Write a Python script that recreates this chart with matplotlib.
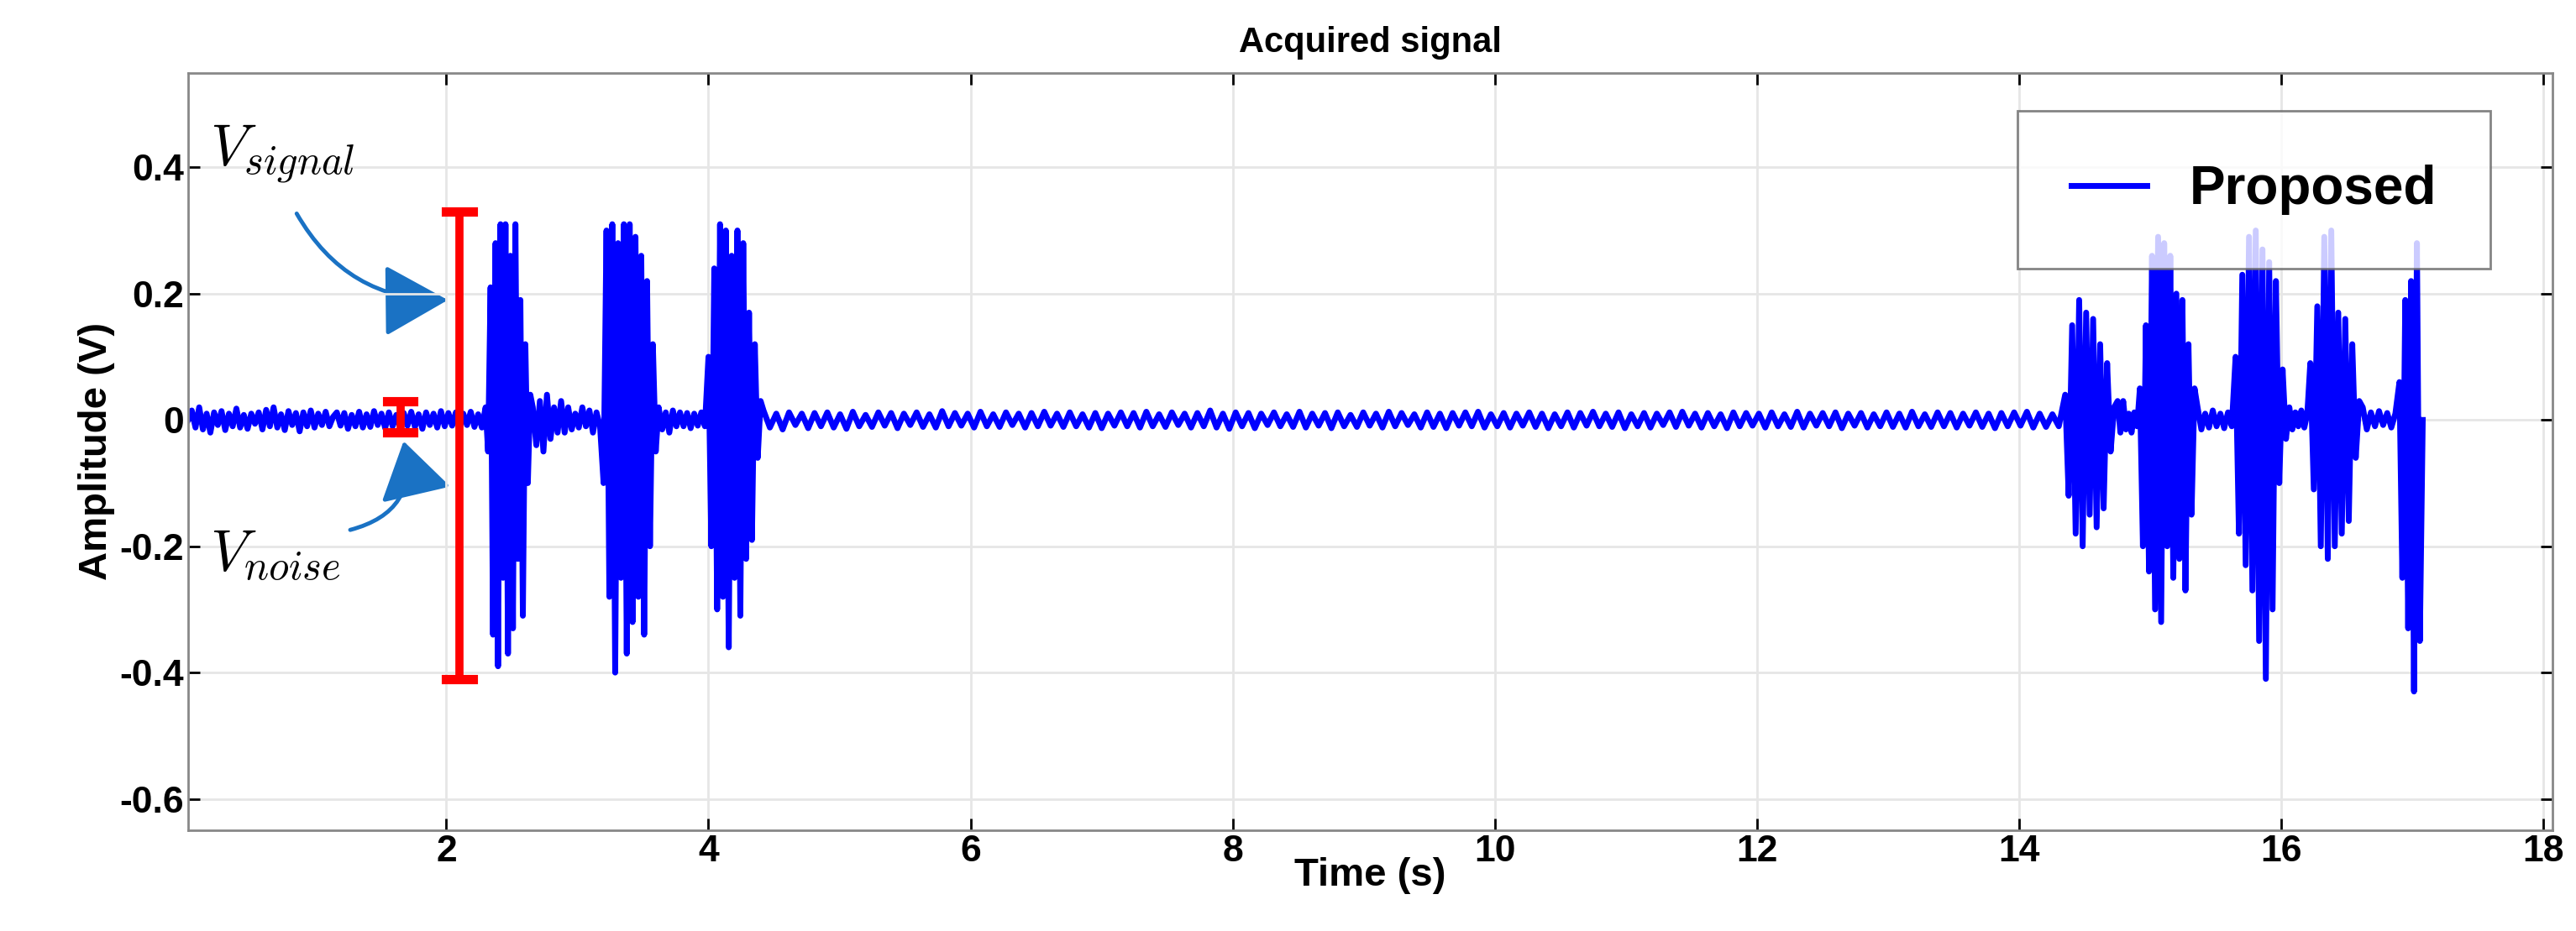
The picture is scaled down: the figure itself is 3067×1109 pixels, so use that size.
import numpy as np
import matplotlib.pyplot as plt
from matplotlib.patches import FancyArrowPatch

seg_times = [
    (0.03, 2.30), (2.30, 2.66), (2.66, 3.20), (3.20, 3.62), (3.62, 4.00),
    (4.00, 4.42), (4.42, 14.35), (14.35, 14.75), (14.75, 14.92), (14.92, 15.36),
    (15.36, 15.65), (15.65, 16.06), (16.06, 16.22), (16.22, 16.62), (16.62, 16.90),
    (16.90, 17.10),
]
seg_values = [
    [0.0, 0.015, -0.012, 0.02, -0.015, 0.01, -0.02, 0.012, -0.008, 0.014, -0.016, 0.01,
     -0.01, 0.018, -0.012, 0.008, -0.014, 0.01, -0.006, 0.012, -0.015, 0.016, -0.01, 0.02,
     -0.012, 0.009, -0.016, 0.014, -0.008, 0.011, -0.018, 0.012, -0.01, 0.015, -0.012, 0.01,
     -0.008, 0.013, -0.01, 0.005, 0.012, -0.009, 0.011, -0.014, 0.008, -0.01, 0.013, -0.012,
     0.009, -0.011, 0.014, -0.008, 0.01, -0.013, 0.012, -0.01, 0.008, -0.012, 0.011, -0.009,
     0.013, -0.011, 0.009, -0.014, 0.012, -0.008, 0.01, -0.012, 0.014, -0.01, 0.011, -0.009,
     0.012, -0.013, 0.01, -0.008, 0.013, -0.011, 0.009, -0.012],
    [0.02, -0.05, 0.21, -0.34, 0.28, -0.39, 0.31, -0.25, 0.31, -0.37, 0.26, -0.33, 0.31,
     -0.22, 0.19, -0.31, 0.12, -0.1, 0.04],
    [0.02, -0.04, 0.03, -0.05, 0.04, -0.03, 0.02, -0.02, 0.03, -0.02, 0.02, -0.015, 0.01,
     -0.012, 0.02, -0.01, 0.015, -0.02, 0.012, -0.01],
    [-0.1, 0.3, -0.28, 0.31, -0.4, 0.28, -0.25, 0.31, -0.37, 0.31, -0.32, 0.29, -0.28, 0.26,
     -0.34, 0.22, -0.2, 0.12, -0.05],
    [0.02, -0.015, 0.012, -0.02, 0.015, -0.01, 0.012, -0.01, 0.011, -0.013, 0.01, -0.009,
     0.012, -0.01],
    [0.1, -0.2, 0.24, -0.3, 0.31, -0.28, 0.3, -0.36, 0.26, -0.25, 0.3, -0.31, 0.28, -0.22,
     0.17, -0.19, 0.12, -0.06, 0.03],
    [0.015, -0.012, 0.01, -0.015, 0.012, -0.008, 0.01, -0.013, 0.011, -0.01, 0.012, -0.012,
     0.009, -0.014, 0.013, -0.01, 0.008, -0.011, 0.012, -0.009, 0.011, -0.013, 0.01, -0.008,
     0.012, -0.011, 0.009, -0.012, 0.014, -0.01, 0.011, -0.009, 0.01, -0.012, 0.013, -0.01,
     0.009, -0.011, 0.012, -0.008, 0.01, -0.012, 0.011, -0.01, 0.013, -0.009, 0.01, -0.011,
     0.012, -0.01, 0.009, -0.012, 0.011, -0.013, 0.01, -0.009, 0.012, -0.01, 0.011, -0.012,
     0.013, -0.01, 0.009, -0.011, 0.012, -0.008, 0.01, -0.012, 0.011, -0.01, 0.015, -0.012,
     0.01, -0.014, 0.012, -0.01, 0.011, -0.013, 0.01, -0.008, 0.012, -0.01, 0.009, -0.011,
     0.013, -0.012, 0.01, -0.009, 0.011, -0.013, 0.012, -0.01, 0.008, -0.011, 0.012, -0.009,
     0.01, -0.012, 0.013, -0.01, 0.011, -0.008, 0.009, -0.012, 0.012, -0.011, 0.01, -0.013,
     0.011, -0.009, 0.012, -0.01, 0.013, -0.012, 0.009, -0.01, 0.011, -0.012, 0.01, -0.009,
     0.012, -0.011, 0.01, -0.013, 0.009, -0.01, 0.012, -0.012, 0.011, -0.009, 0.013, -0.01,
     0.01, -0.011, 0.012, -0.013, 0.009, -0.01, 0.011, -0.012, 0.01, -0.008, 0.012, -0.011,
     0.013, -0.009, 0.01, -0.012, 0.011, -0.01, 0.009, -0.013, 0.012, -0.01, 0.011, -0.009,
     0.01, -0.012, 0.012, -0.01, 0.009, -0.011, 0.013, -0.012, 0.01, -0.009, 0.011, -0.01,
     0.012, -0.013, 0.01, -0.009, 0.011, -0.012, 0.009, -0.01, 0.012, -0.011, 0.01, -0.012,
     0.013, -0.01, 0.009, -0.011, 0.012, -0.01, 0.011, -0.012, 0.01, -0.009, 0.012, -0.011,
     0.01, -0.013, 0.011, -0.01, 0.012, -0.009, 0.013, -0.012, 0.01, -0.011, 0.009, -0.01],
    [0.04, -0.12, 0.15, -0.18, 0.19, -0.2, 0.17, -0.15, 0.16, -0.17, 0.12, -0.14, 0.09,
     -0.05, 0.02],
    [0.03, -0.02, 0.03, -0.015, 0.01, -0.02, 0.012, -0.01],
    [0.05, -0.2, 0.15, -0.24, 0.26, -0.3, 0.29, -0.32, 0.28, -0.2, 0.26, -0.25, 0.2, -0.22,
     0.19, -0.27, 0.12, -0.15, 0.05],
    [0.02, -0.015, 0.01, -0.012, 0.015, -0.01, 0.01, -0.013, 0.012, -0.01],
    [0.1, -0.18, 0.23, -0.23, 0.29, -0.27, 0.3, -0.35, 0.27, -0.41, 0.25, -0.3, 0.22, -0.1,
     0.08, -0.03],
    [0.02, -0.015, 0.012, -0.01, 0.015, -0.012, 0.01],
    [0.09, -0.11, 0.18, -0.2, 0.29, -0.22, 0.3, -0.2, 0.17, -0.18, 0.16, -0.16, 0.12, -0.06,
     0.03],
    [0.02, -0.015, 0.012, -0.01, 0.014, -0.008, 0.011, -0.012, 0.01],
    [0.06, -0.25, 0.19, -0.33, 0.22, -0.43, 0.28, -0.35, 0.0],
]

t = np.concatenate([np.linspace(a, b, len(v), endpoint=False)
                    for (a, b), v in zip(seg_times, seg_values)])
amp = np.concatenate([np.array(v) for v in seg_values])

plt.rcParams['font.family'] = ['Liberation Sans', 'DejaVu Sans']
plt.rcParams['mathtext.fontset'] = 'cm'
fig = plt.figure(figsize=(30.67, 11.09), dpi=100)
ax = fig.add_axes([0.073, 0.108, 0.918, 0.814])

ax.plot(t, amp, color='blue', lw=5, label='Proposed')
ax.set_xlim(0.03, 18.07)
ax.set_ylim(-0.65, 0.55)
ax.set_xticks([2, 4, 6, 8, 10, 12, 14, 16, 18])
ax.set_yticks([-0.6, -0.4, -0.2, 0, 0.2, 0.4])
ax.set_yticklabels(['-0.6', '-0.4', '-0.2', '0', '0.2', '0.4'])
ax.grid(True, color='#e6e6e6', lw=2)
ax.tick_params(labelsize=32, width=2, length=10, direction='in', top=True, right=True)
for lbl in ax.get_xticklabels() + ax.get_yticklabels():
    lbl.set_fontweight('bold')
for s in ax.spines.values():
    s.set_color('#888888')
    s.set_linewidth(2)

ax.set_title('Acquired signal', fontsize=30, fontweight='bold', pad=18)
ax.set_xlabel('Time (s)', fontsize=34, fontweight='bold', labelpad=-10)
ax.set_ylabel('Amplitude (V)', fontsize=34, fontweight='bold')

leg = ax.legend(loc='upper right', prop={'weight': 'bold', 'size': 46},
                handlelength=1.4, borderpad=1.0, fancybox=False, edgecolor='#666666',
                bbox_to_anchor=(0.985, 0.985))
leg.get_frame().set_linewidth(2)

# V_signal / V_noise bars
red = (1, 0, 0)
ax.plot([2.1, 2.1], [-0.41, 0.33], color=red, lw=7)
for y in (-0.41, 0.33):
    ax.plot([2.0, 2.2], [y, y], color=red, lw=8)
ax.plot([1.65, 1.65], [-0.02, 0.03], color=red, lw=7)
for y in (-0.02, 0.03):
    ax.plot([1.55, 1.75], [y, y], color=red, lw=8)

ax.text(0.2, 0.42, r'$V_{signal}$', fontsize=50, ha='left', va='center')
ax.text(0.2, -0.215, r'$V_{noise}$', fontsize=50, ha='left', va='center')

arrow_blue = '#1a72c4'
ax.add_patch(FancyArrowPatch((0.85, 0.33), (2.03, 0.19), connectionstyle='arc3,rad=0.3',
                             arrowstyle='-|>,head_length=1.6,head_width=0.9',
                             mutation_scale=30, color=arrow_blue, lw=3.5))
ax.add_patch(FancyArrowPatch((1.25, -0.175), (1.67, -0.03), connectionstyle='arc3,rad=0.5',
                             arrowstyle='-|>,head_length=1.4,head_width=0.9',
                             mutation_scale=30, color=arrow_blue, lw=3.5))

fig.savefig('out.png', dpi=100)
